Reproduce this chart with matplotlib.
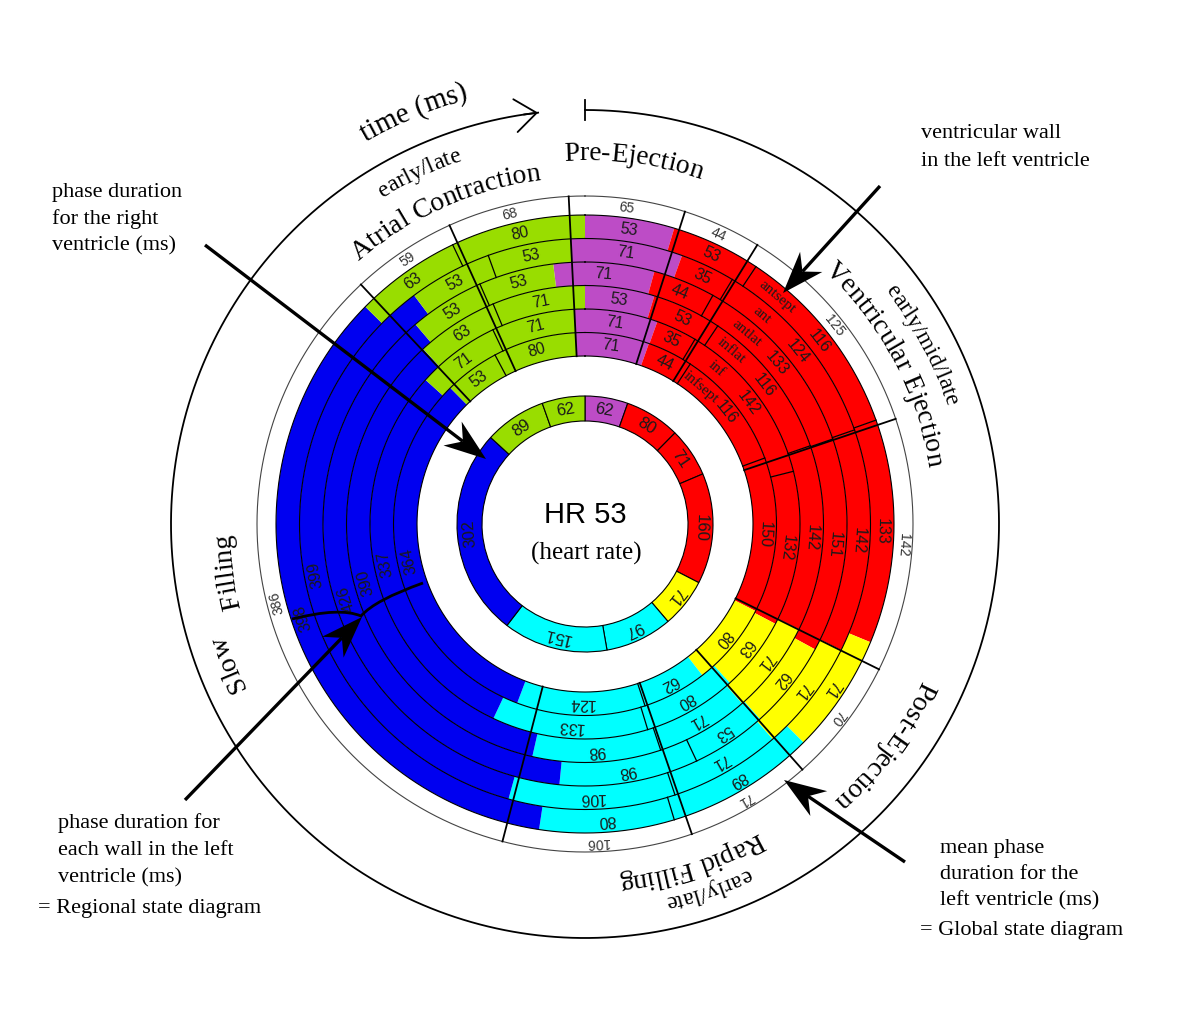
import numpy as np
import matplotlib
matplotlib.use('Agg')
import matplotlib.pyplot as plt
from matplotlib.font_manager import FontProperties
from matplotlib.path import Path
from matplotlib.patches import PathPatch

# phase durations (ms) for each wall of the left ventricle, outer ring first
walls          = ['antsept', 'ant', 'antlat', 'inflat', 'inf', 'infsept']
pre_ejection   = [53, 71, 71, 53, 71, 71]
ejection_early = [53, 35, 44, 53, 35, 44]
ejection_mid   = [116, 124, 133, 116, 142, 116]
ejection_late  = [133, 142, 151, 142, 132, 150]
post_ejection  = [71, 71, 62, 71, 63, 80]
filling_early  = [89, 71, 53, 71, 80, 62]
filling_late   = [80, 106, 98, 98, 133, 124]
slow_filling   = [398, 399, 426, 390, 337, 364]
atrial_early   = [63, 53, 53, 63, 71, 53]
atrial_late    = [80, 53, 53, 71, 71, 80]
wall_onset_ms  = [0, -9, -22, 0, -9, -9]

# mean of the walls (global state diagram) and the right ventricle
mean_phase    = [65, 44, 125, 142, 70, 71, 106, 386, 59, 68]
mean_onset_ms = -9
right_phase   = [62, 80, 71, 160, 71, 97, 151, 302, 89, 62]
heart_rate    = 53

phase_colors = ['#bd4cc6', '#ff0000', '#ff0000', '#ff0000', '#ffff00',
                '#00ffff', '#00ffff', '#0000f0', '#99dd00', '#99dd00']
same_phase_edges = [2, 3, 6, 9]   # boundaries between early/mid/late parts

W, H = 1200, 1036
CX, CY, R_AX = 585, 524, 470

fig = plt.figure(figsize=(W / 100, H / 100), dpi=100)
ax = fig.add_axes([(CX - R_AX) / W, (H - CY - R_AX) / H, 2 * R_AX / W, 2 * R_AX / H],
                  projection='polar')
ax.set_theta_zero_location('N')
ax.set_theta_direction(-1)
ax.set_ylim(0, R_AX)
ax.set_axis_off()

over = fig.add_axes([0, 0, 1, 1])
over.set_xlim(0, W)
over.set_ylim(H, 0)
over.set_axis_off()

SERIF = 'Liberation Serif'
SANS = 'Liberation Sans'
num_font = FontProperties(family=SANS, size=11.5)
mean_font = FontProperties(family=SANS, size=10)
wall_font = FontProperties(family=SERIF, size=11)
title_font = FontProperties(family=SERIF, size=20)
small_title = FontProperties(family=SERIF, size=17)
note_font = FontProperties(family=SERIF, size=16)

renderer = fig.canvas.get_renderer()


def text_px(s, prop):
    return renderer.get_text_width_height_descent(s, prop, ismath=False)[0]


def arc_text(s, r, theta, prop):
    # one character at a time along the circle, clockwise
    base = text_px('II', prop)
    ws = np.array([text_px('I' + c + 'I', prop) - base for c in s])
    offs = np.cumsum(ws) - ws / 2 - ws.sum() / 2
    for c, o in zip(s, offs):
        th = theta + np.degrees(o / r)
        ax.text(np.radians(th), r, c, fontproperties=prop, rotation=-th,
                rotation_mode='anchor', ha='center', va='baseline')


def ring_label(s, r, theta, prop, color='#1a1a1a'):
    ax.text(np.radians(theta), r, s, fontproperties=prop, rotation=-theta,
            rotation_mode='anchor', ha='center', va='center', color=color)


def stealth_arrow(p0, p1, L=42, w=15, notch=13):
    # thick line with a swept-back arrow head
    p0, p1 = np.array(p0, float), np.array(p1, float)
    u = (p1 - p0) / np.hypot(*(p1 - p0))
    n = np.array([-u[1], u[0]])
    back = p1 - (L - notch) * u
    over.plot([p0[0], back[0]], [p0[1], back[1]], color='k', lw=2.4, solid_capstyle='butt')
    head = np.array([p1, p1 - L * u + w * n, back, p1 - L * u - w * n])
    over.fill(head[:, 0], head[:, 1], color='k', lw=0)


cycle = sum(mean_phase)
deg_per_ms = 360 / cycle
R_IN, R_OUT, R_LAB = 168, 309, 328
ring_w = (R_OUT - R_IN) / len(walls)
tgrid = np.linspace(0, 2 * np.pi, 721)

table = np.array([pre_ejection, ejection_early, ejection_mid, ejection_late,
                  post_ejection, filling_early, filling_late, slow_filling,
                  atrial_early, atrial_late]).T

m_edges = mean_onset_ms * deg_per_ms + np.concatenate([[0], np.cumsum(mean_phase)]) * deg_per_ms

# regional state diagram
for k, row in enumerate(table):
    r0 = R_OUT - (k + 1) * ring_w
    rm = r0 + ring_w / 2
    edges = wall_onset_ms[k] * deg_per_ms + 360 * np.concatenate([[0], np.cumsum(row)]) / row.sum()
    ax.bar(np.radians(edges[:-1]), ring_w, width=np.radians(np.diff(edges)), bottom=r0,
           align='edge', color=phase_colors, linewidth=0, zorder=1)
    for i in same_phase_edges:
        ax.plot(np.radians([edges[i]] * 2), [r0, r0 + ring_w], color='k', lw=0.9, zorder=3)
    for i, v in enumerate(row):
        ring_label(str(v), rm, (edges[i] + edges[i + 1]) / 2, num_font)
    ring_label(walls[k], rm, m_edges[2] + 8.5, wall_font)

for k in range(len(walls) + 1):
    ax.plot(tgrid, np.full_like(tgrid, R_IN + k * ring_w), color='k', lw=0.8, zorder=2)

# mean values ring
for e in m_edges[:-1]:
    ax.plot(np.radians([e, e]), [R_IN, R_LAB], color='k', lw=1.3, zorder=4)
for i, v in enumerate(mean_phase):
    ring_label(str(v), (R_OUT + R_LAB) / 2, (m_edges[i] + m_edges[i + 1]) / 2, mean_font, '#333333')
ax.plot(tgrid, np.full_like(tgrid, R_LAB), color='#444444', lw=0.8)

# right ventricle ring
g_edges = 360 * np.concatenate([[0], np.cumsum(right_phase)]) / sum(right_phase)
ax.bar(np.radians(g_edges[:-1]), 25, width=np.radians(np.diff(g_edges)), bottom=103,
       align='edge', color=phase_colors, edgecolor='k', linewidth=0.8)
for i, v in enumerate(right_phase):
    ring_label(str(v), 115.5, (g_edges[i] + g_edges[i + 1]) / 2, FontProperties(family=SANS, size=12))

over.text(CX, 515, f'HR {heart_rate}', fontproperties=FontProperties(family=SANS, size=21),
          ha='center', va='center')
over.text(CX + 1, 553, '(heart rate)', fontproperties=FontProperties(family=SERIF, size=18),
          ha='center', va='center')

# time arrow round the diagram
R_T = 414
ta = np.radians(np.linspace(0, 353.5, 600))
ax.plot(ta, np.full_like(ta, R_T), color='k', lw=1.3)
ax.plot([0, 0], [R_T - 10, R_T + 10], color='k', lw=1.3)
ax.annotate('', xy=(np.radians(353.5), R_T), xytext=(np.radians(351.5), R_T),
            arrowprops=dict(arrowstyle='->,head_length=1.1,head_width=0.85', lw=1.3,
                            color='k', shrinkA=0, shrinkB=0, mutation_scale=14))
arc_text('time (ms)', 441, -22.6, FontProperties(family=SERIF, size=21))

# phase titles
arc_text('early/late', 384, -25.3, small_title)
arc_text('Atrial Contraction', 347, -24, title_font)
arc_text('Pre-Ejection', 364, 7.6, title_font)
arc_text('early/mid/late', 380, 62, small_title)
arc_text('Ventricular Ejection', 348, 62, title_font)
arc_text('Post-Ejection', 371, 126.4, title_font)
arc_text('Rapid Filling', 353, 162.7, title_font)
arc_text('early/late', 381, 161.3, small_title)
arc_text('Slow', 376, 248.5, title_font)
arc_text('Filling', 355, 262.4, title_font)

# annotations
notes = [
    (['ventricular wall', 'in the left ventricle'], 921, 134, 28),
    (['phase duration', 'for the right', 'ventricle (ms)'], 52, 192, 27),
    (['phase duration for', 'each wall in the left', 'ventricle (ms)'], 58, 823, 27.5),
    (['mean phase', 'duration for the', 'left ventricle (ms)'], 940, 848, 26.5),
]
for lines, x, y, step in notes:
    for j, s in enumerate(lines):
        over.text(x, y + j * step, s, fontproperties=note_font, ha='left', va='center')
over.text(38, 909, '= Regional state diagram', fontproperties=note_font, ha='left', va='center')
over.text(920, 930, '= Global state diagram', fontproperties=note_font, ha='left', va='center')

for p0, p1 in [((880, 186), (783, 293)), ((205, 245), (486, 459)),
               ((185, 800), (362, 617)), ((905, 862), (784, 780))]:
    stealth_arrow(p0, p1)

brace = Path([(292, 619), (340, 607), (361, 616), (375, 600), (423, 583)],
             [Path.MOVETO, Path.CURVE3, Path.CURVE3, Path.CURVE3, Path.CURVE3])
over.add_patch(PathPatch(brace, fill=False, lw=2, color='k'))

fig.savefig('out.png', dpi=100)
